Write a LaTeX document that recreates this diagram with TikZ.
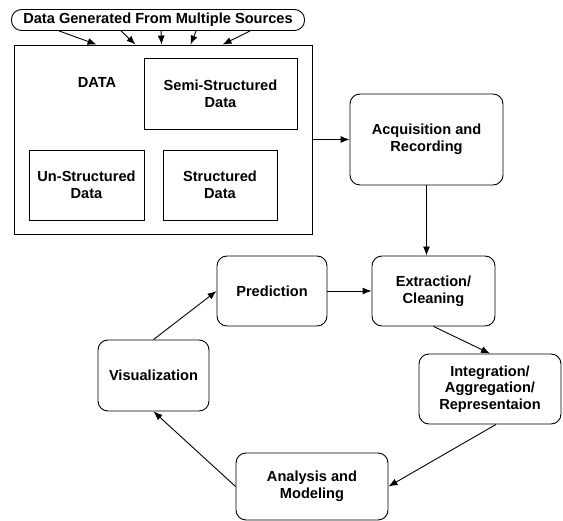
\documentclass[tikz,border=0pt]{standalone}
\usepackage{fontspec}
\setmainfont{Liberation Sans}
\usepackage{tikz}
\usetikzlibrary{positioning}
\usetikzlibrary{arrows.meta}
\usetikzlibrary{calc}

\begin{document}
\begin{tikzpicture}[x=1pt, y=-1pt, line width=0.9pt,
				internal/.style={draw, rectangle, inner sep=2pt, font=\fontsize{14.6}{16.7}\selectfont\bfseries},
				process/.style={internal, rounded corners=10pt},
				every text node part/.style={align=center}]
				\useasboundingbox (0, 0) rectangle (563, 521);
				
				\node[internal, rounded corners=10pt, minimum width=293pt, minimum height=21pt](node0) at (158, 20) {Data Generated From Multiple Sources};
				
				\node[internal, minimum width=298pt, minimum height=189pt](node1) at (163, 139.5) {};
				\node[font=\fontsize{14.6}{16.7}\selectfont\bfseries](node2) at (97, 82) {DATA};
				\node[internal, minimum width=153pt, minimum height=71pt](node3) at (220.5, 93.5) {Semi-Structured\\Data};
				\node[internal, minimum width=115pt, minimum height=70pt](node4) at (86.5, 185) {Un-Structured\\Data};
				\node[internal, minimum width=114pt, minimum height=70pt](node5) at (220, 185) {Structured\\Data};
				
				% banner to data box
				\draw[->,>={Latex[length=9pt,width=7pt]}] ([xshift=48pt]node0.south west) -- ([xshift=83pt]node1.north west);
				\draw[->,>={Latex[length=9pt,width=7pt]}] ([xshift=110pt]node0.south west) -- ([xshift=122pt]node1.north west);
				\draw[->,>={Latex[length=9pt,width=7pt]}] ([xshift=150pt]node0.south west) -- ([xshift=148pt]node1.north west);
				\draw[->,>={Latex[length=9pt,width=7pt]}] ([xshift=185pt]node0.south west) -- ([xshift=177pt]node1.north west);
				\draw[->,>={Latex[length=9pt,width=7pt]}] ([xshift=239pt]node0.south west) -- ([xshift=209pt]node1.north west);
				
				\node[process, minimum width=153pt, minimum height=91pt](node6) at (426.5, 139.5) {Acquisition and\\Recording};
				\draw[->,>={Latex[length=9pt,width=7pt]}] (node1.east) -- (node6.west);
				
				\node[process, minimum width=123pt, minimum height=70pt](node7) at (433.5, 291) {Extraction/\\Cleaning};
				\draw[->,>={Latex[length=9pt,width=7pt]}] (node6.south) -- (node6.south |- node7.north);
				
				\node[process, minimum width=142pt, minimum height=70pt](node8) at (490, 389) {Integration/\\Aggregation/\\Representaion};
				\draw[->,>={Latex[length=9pt,width=7pt]}] (node7.south) -- (node8.north);
				
				\node[process, minimum width=152pt, minimum height=67pt](node9) at (312, 486.5) {Analysis and\\Modeling};
				\draw[->,>={Latex[length=9pt,width=7pt]}] ([xshift=6pt]node8.south) -- (node9.east);
				
				\node[process, minimum width=111pt, minimum height=71pt](node10) at (153.5, 375.5) {Visualization};
				\draw[->,>={Latex[length=9pt,width=7pt]}] (node9.west) -- (node10.south);
				
				\node[process, minimum width=110pt, minimum height=70pt](node11) at (272, 291) {Prediction};
				\draw[->,>={Latex[length=9pt,width=7pt]}] (node10.north) -- (node11.west);
				\draw[->,>={Latex[length=9pt,width=7pt]}] (node11.east) -- (node7.west);
			\end{tikzpicture}
\end{document}
